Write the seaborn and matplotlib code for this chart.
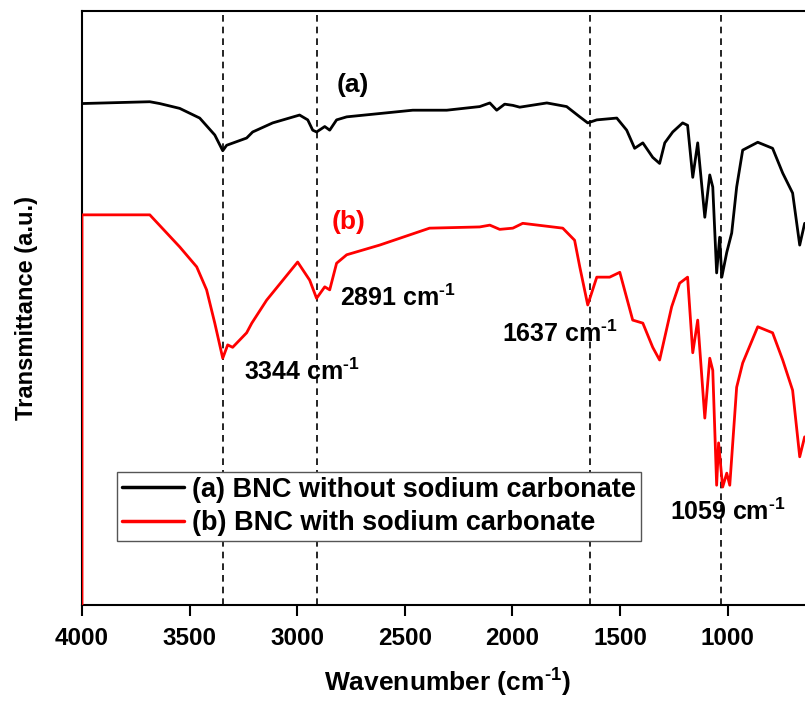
import pandas as pd
import matplotlib
matplotlib.use("Agg")
import matplotlib.pyplot as plt
import seaborn as sns

# spectrum (a) - BNC without sodium carbonate
wn_a = [4000, 3685, 3639, 3546, 3453, 3383, 3346, 3328, 3235, 3207, 3114, 2989,
        2951, 2928, 2910, 2872, 2849, 2817, 2770, 2463, 2305, 2152, 2105, 2073,
        2036, 1998, 1966, 1840, 1748, 1687, 1650, 1608, 1515, 1469, 1432, 1394,
        1348, 1316, 1292, 1255, 1209, 1186, 1162, 1139, 1106, 1083, 1069, 1051,
        1037, 1027, 1004, 981, 958, 930, 860, 791, 744, 698, 665, 642]
tr_a = [82.9, 83.2, 82.9, 82.1, 80.5, 77.7, 75.1, 76.0, 77.2, 78.2, 79.7, 81.0,
        80.2, 78.5, 78.2, 79.1, 78.5, 80.2, 80.7, 81.8, 81.8, 82.4, 83.0, 81.8,
        82.8, 82.6, 82.3, 83.0, 82.4, 80.7, 79.7, 80.2, 80.5, 78.5, 75.5, 76.4,
        74.0, 73.0, 76.4, 78.2, 79.7, 79.3, 70.7, 76.4, 64.1, 71.1, 69.1, 54.9,
        60.8, 54.2, 58.3, 61.5, 69.1, 75.2, 76.5, 75.5, 71.4, 68.1, 59.5, 63.1]

# spectrum (b) - BNC with sodium carbonate
wn_b = [4000, 4000, 3685, 3546, 3467, 3421, 3383, 3346, 3323, 3300, 3235, 3211,
        3142, 2998, 2942, 2910, 2872, 2849, 2817, 2770, 2617, 2385, 2152, 2105,
        2059, 1998, 1952, 1766, 1711, 1687, 1650, 1608, 1548, 1501, 1441, 1394,
        1348, 1316, 1260, 1223, 1186, 1162, 1139, 1106, 1083, 1069, 1051, 1042,
        1023, 1004, 990, 958, 930, 860, 791, 744, 698, 665, 642]
tr_b = [0.0, 64.5, 64.5, 59.2, 55.9, 52.1, 46.6, 40.8, 43.0, 42.6, 45.0, 46.6,
        50.4, 56.7, 53.7, 50.7, 52.6, 52.1, 56.5, 57.9, 59.5, 62.3, 62.5, 62.8,
        62.1, 62.3, 63.1, 62.3, 60.3, 55.9, 49.6, 54.2, 54.2, 55.0, 47.1, 46.6,
        42.6, 40.5, 49.3, 53.2, 54.2, 41.7, 47.1, 30.9, 40.8, 38.8, 19.8, 26.8,
        19.5, 21.8, 19.8, 36.0, 40.0, 46.0, 45.0, 40.5, 35.5, 24.5, 27.8]

labels = ["(a) BNC without sodium carbonate", "(b) BNC with sodium carbonate"]
peak_lines = [3344, 2908, 1641, 1033]
peak_texts = ["3344", "2891", "1637", "1059"]
peak_pos = [(3249, 37.2), (2802, 49.4), (2050, 43.5), (1269, 14.0)]
x_ticks = [4000, 3500, 3000, 2500, 2000, 1500, 1000]

sns.set_style("ticks")
plt.rcParams["font.family"] = ["Liberation Sans", "DejaVu Sans"]
plt.rcParams["font.weight"] = "bold"
plt.rcParams["text.color"] = "black"
plt.rcParams["axes.labelcolor"] = "black"
plt.rcParams["xtick.color"] = "black"
plt.rcParams["mathtext.fontset"] = "custom"
plt.rcParams["mathtext.rm"] = "Liberation Sans:bold"
plt.rcParams["mathtext.it"] = "Liberation Sans:bold"
plt.rcParams["mathtext.bf"] = "Liberation Sans:bold"
plt.rcParams["mathtext.default"] = "rm"

sup = "$^{\u2010 1}$"

df_a = pd.DataFrame({"wn": wn_a, "T": tr_a})
df_b = pd.DataFrame({"wn": wn_b, "T": tr_b})

fig = plt.figure(figsize=(8.05, 7.02), dpi=100)
ax = fig.add_axes([82 / 805, 97 / 702, 731.7 / 805, 594 / 702])

for x in peak_lines:
    ax.axvline(x, color="black", lw=1.2, ls=(0, (4, 3)), zorder=1)

sns.lineplot(data=df_a, x="wn", y="T", color="black", lw=2, sort=False,
             estimator=None, label=labels[0], ax=ax, zorder=3)
sns.lineplot(data=df_b, x="wn", y="T", color="red", lw=2, sort=False,
             estimator=None, label=labels[1], ax=ax, zorder=3)

ax.set_xlim(4000, 600)
ax.set_ylim(0, 98.2)
ax.set_xticks(x_ticks)
ax.set_yticks([])
ax.tick_params(axis="x", direction="out", length=8, width=1.5, labelsize=17.5, pad=8)
for s in ax.spines.values():
    s.set_linewidth(1.5)
    s.set_color("black")

ax.set_xlabel("Wavenumber (cm" + sup + ")", fontsize=19, fontweight="bold", labelpad=12)
ax.set_ylabel("Transmittance (a.u.)", fontsize=17, fontweight="bold", labelpad=32)

ax.text(2816, 85.9, "(a)", fontsize=19, fontweight="bold", color="black", va="center")
ax.text(2840, 63.3, "(b)", fontsize=19, fontweight="bold", color="red", va="center")
for txt, (px, py) in zip(peak_texts, peak_pos):
    ax.text(px, py, txt + " cm" + sup, fontsize=18, fontweight="bold",
            va="baseline", ha="left", zorder=4)

leg = ax.legend(loc="upper left", bbox_to_anchor=(0.048, 0.224), borderaxespad=0,
                fontsize=19.5, handlelength=2.3, handletextpad=0.3, labelspacing=0.28,
                borderpad=0.18, fancybox=False, framealpha=1)
leg.get_frame().set_edgecolor("#555555")
leg.get_frame().set_linewidth(1.0)
for line in leg.get_lines():
    line.set_linewidth(2.5)

plt.savefig("out.png", dpi=100)
plt.close()
